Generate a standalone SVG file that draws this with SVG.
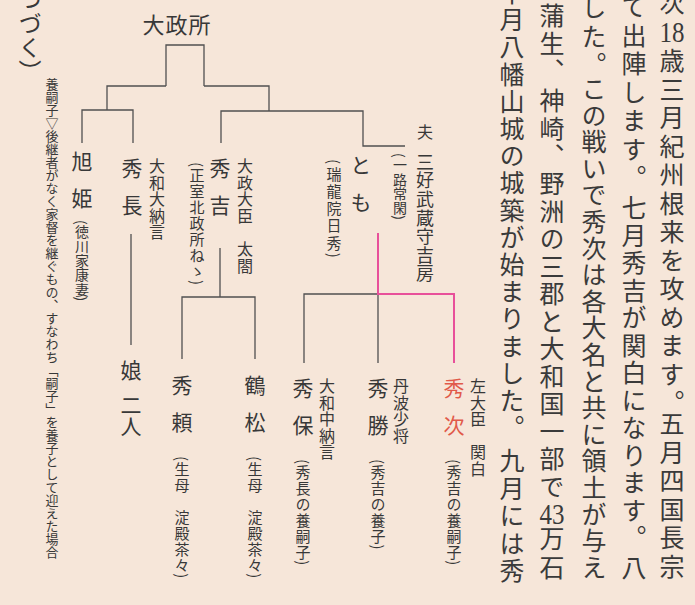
<svg xmlns="http://www.w3.org/2000/svg" width="695" height="605" viewBox="0 0 695 605">
<style>
text{font-family:"Noto Sans CJK JP","Noto Sans",sans-serif;fill:#383838}
.v{writing-mode:vertical-rl}
.body{font-size:25px;letter-spacing:2.5px;fill:#3a3a3a}
.num{font-family:"Liberation Serif",serif;font-size:25px;fill:#3a3a3a}
.name{font-size:21px;letter-spacing:16px}
.ttl{font-size:16px;letter-spacing:0.6px}
.sm{font-size:15px;letter-spacing:0.9px}
.note{font-size:13px}
.red{fill:#e15a4a}
.ln{fill:none;stroke:#505050;stroke-width:1.3}
.pk{fill:none;stroke:#e8509a;stroke-width:2}
</style>
<rect width="695" height="605" fill="#f6e6d9"/>
<g id="body-text">
<text class="v body" x="672" y="-10">次</text>
<text class="num" transform="translate(672,42) scale(1,1.2)" text-anchor="middle">18</text>
<text class="v body" x="672" y="48" style="letter-spacing:3.5px">歳三月紀州根来を攻めます。</text>
<text class="v body" x="672" y="411" style="letter-spacing:3.5px">五月四国長宗</text>
<text class="v body" x="634" y="-6" style="letter-spacing:3.5px">て出陣します。</text>
<text class="v body" x="634" y="195">七月秀吉が関白になります。</text>
<text class="v body" x="634" y="555">八</text>
<text class="v body" x="594" y="-5" style="letter-spacing:3.5px">した。</text>
<text class="v body" x="594" y="76" style="letter-spacing:1.6px">この戦いで秀次は各大名と共に領土が与え</text>
<text class="v body" x="552" y="3">蒲生、</text>
<text class="v body" x="552" y="88">神崎、</text>
<text class="v body" x="552" y="171">野洲の三郡と大和国一部で</text>
<text class="num" transform="translate(552,524) scale(1,1.2)" text-anchor="middle">43</text>
<text class="v body" x="552" y="526" style="letter-spacing:4px">万石</text>
<text class="v body" x="512" y="-20" style="letter-spacing:2.2px">十月八幡山城の城築が始まりました。</text>
<text class="v body" x="512" y="448">九月には秀</text>
<text class="v" x="30" y="-12" style="font-size:23px;letter-spacing:1px">つづく）</text>
<text class="v note" x="52" y="78">養嗣子▽後継者がなく家督を継ぐもの、すなわち「嗣子」を養子として迎えた場合</text>
</g>
<g id="connectors">
<path class="ln" d="M166,86V45H204V86"/>
<path class="ln" d="M107,110V86H166"/>
<path class="ln" d="M204,86H269V111"/>
<path class="ln" d="M82,143V110H133V143"/>
<path class="ln" d="M221,143V111H363V146H405"/>
<path class="ln" d="M131,234V345"/>
<path class="ln" d="M220,248V297"/>
<path class="ln" d="M182,359V297H255V359"/>
<path class="ln" d="M304,363V294H378V363"/>
<path class="pk" d="M378,233V294H454V363"/>
</g>
<g id="n-omandokoro"><text x="177" y="33" text-anchor="middle" style="font-size:22px;letter-spacing:1px">大政所</text></g>
<g id="n-asahi">
<text class="v name" x="82" y="151">旭姫</text>
<text class="v sm" x="82" y="220" style="font-size:14px;letter-spacing:0.3px">(徳川家康妻)</text>
</g>
<g id="n-hidenaga">
<text class="v name" x="132" y="158">秀長</text>
<text class="v ttl" x="157" y="158">大和大納言</text>
</g>
<g id="n-musume">
<text class="v" x="131" y="360" style="font-size:21px">娘</text>
<text class="v" x="131" y="395" style="font-size:21px">二人</text>
</g>
<g id="n-hideyoshi">
<text class="v name" x="220" y="158">秀吉</text>
<text class="v sm" x="197" y="162" style="letter-spacing:1px">(正室北政所ねゝ)</text>
<text class="v ttl" x="245" y="158">大政大臣　太閤</text>
</g>
<g id="n-tomo">
<text class="v name" x="361" y="155">とも</text>
<text class="v sm" x="334" y="159" style="letter-spacing:2.3px">(瑞龍院日秀)</text>
</g>
<g id="n-yoshifusa">
<text class="v" x="425" y="124" style="font-size:16px">夫</text>
<text class="v" x="425" y="153" style="font-size:18px;letter-spacing:0.6px">三好武蔵守吉房</text>
<text class="v sm" x="400" y="153" style="font-size:14px;letter-spacing:0.3px">(一路常閑)</text>
</g>
<g id="n-hideyori">
<text class="v name" x="182" y="375">秀頼</text>
<text class="v sm" x="182" y="456">(生母　淀殿茶々)</text>
</g>
<g id="n-tsurumatsu">
<text class="v name" x="255" y="375">鶴松</text>
<text class="v sm" x="255" y="456">(生母　淀殿茶々)</text>
</g>
<g id="n-hideyasu">
<text class="v name" x="303" y="378">秀保</text>
<text class="v ttl" x="327" y="378">大和中納言</text>
<text class="v sm" x="303" y="459">(秀長の養嗣子)</text>
</g>
<g id="n-hidekatsu">
<text class="v name" x="378" y="378">秀勝</text>
<text class="v ttl" x="401" y="378">丹波少将</text>
<text class="v sm" x="378" y="459">(秀吉の養子)</text>
</g>
<g id="n-hidetsugu">
<text class="v name red" x="454" y="378">秀次</text>
<text class="v ttl" x="478" y="378">左大臣　関白</text>
<text class="v sm" x="454" y="459">(秀吉の養嗣子)</text>
</g>
</svg>
